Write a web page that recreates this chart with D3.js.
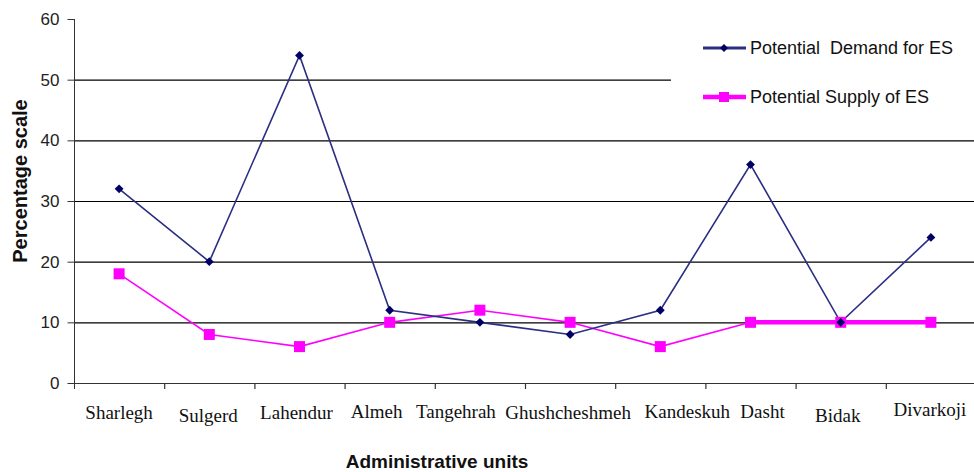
<!DOCTYPE html>
<html>
<head>
<meta charset="utf-8">
<script src="https://cdn.jsdelivr.net/npm/d3@7"></script>
<style>
  html, body { margin: 0; padding: 0; background: #fff; }
  svg { display: block; }
</style>
</head>
<body>
<svg id="chart" width="974" height="472"></svg>
<script>
// Administrative units along the x axis
const units = ["Sharlegh", "Sulgerd", "Lahendur", "Almeh", "Tangehrah",
               "Ghushcheshmeh", "Kandeskuh", "Dasht", "Bidak", "Divarkoji"];
// Potential demand for ecosystem services (%)
const demand = [32, 20, 54, 12, 10, 8, 12, 36, 10, 24];
// Potential supply of ecosystem services (%)
const supply = [18, 8, 6, 10, 12, 10, 6, 10, 10, 10];
// Y axis ticks
const yTicks = [0, 10, 20, 30, 40, 50, 60];
const seriesNames = ["Potential  Demand for ES", "Potential Supply of ES"];

const svg = d3.select("#chart");
const plotLeft = 74, plotRight = 976, plotTop = 19, plotBottom = 383;

const x = d3.scaleBand().domain(units).range([plotLeft, plotRight]);
const xc = d => x(d) + x.bandwidth() / 2;
const y = d3.scaleLinear().domain([0, 60]).range([plotBottom, plotTop]);

// horizontal gridlines
svg.append("g").selectAll("line")
  .data(yTicks.filter(t => t > 0 && t < 60))
  .join("line")
  .attr("x1", plotLeft).attr("x2", 974)
  .attr("y1", d => y(d) + 0.5).attr("y2", d => y(d) + 0.5)
  .attr("stroke", "#000").attr("stroke-width", 1.2);

// y axis
const yAxis = svg.append("g")
  .attr("transform", `translate(${plotLeft + 0.5},0)`)
  .call(d3.axisLeft(y).tickValues(yTicks).tickSize(7).tickPadding(8));
yAxis.select(".domain").attr("stroke", "#333").attr("d", `M0,${plotTop}V${plotBottom + 6}`);
yAxis.selectAll(".tick line").attr("stroke", "#333");
yAxis.selectAll(".tick text")
  .attr("font-family", "'Liberation Sans', Arial, sans-serif")
  .attr("font-size", 17).attr("fill", "#222");

// x axis line and tick marks at the band edges
svg.append("line")
  .attr("x1", plotLeft - 6).attr("x2", 974)
  .attr("y1", plotBottom + 0.5).attr("y2", plotBottom + 0.5)
  .attr("stroke", "#333").attr("stroke-width", 1.2);
svg.append("g").selectAll("line")
  .data(units.slice(1))
  .join("line")
  .attr("x1", d => x(d) + 0.5).attr("x2", d => x(d) + 0.5)
  .attr("y1", plotBottom).attr("y2", plotBottom + 6)
  .attr("stroke", "#333").attr("stroke-width", 1.2);

// category labels, nudged sideways so the long names do not collide
const labelShift = [0, -1, -3, -13, -24, -2, 27, 12, -3, -1];
const labelDrop = [0, 3, 0, -1, -1, 0, -1, -1, 3, -3];
svg.append("g").selectAll("text")
  .data(units)
  .join("text")
  .attr("x", (d, i) => xc(d) + labelShift[i])
  .attr("y", (d, i) => 419 + labelDrop[i])
  .attr("text-anchor", "middle")
  .attr("font-family", "'Liberation Serif', 'Times New Roman', serif")
  .attr("font-size", 19).attr("fill", "#111")
  .text(d => d);

// axis titles
svg.append("text")
  .attr("x", 437).attr("y", 468)
  .attr("text-anchor", "middle")
  .attr("font-family", "'Liberation Sans', Arial, sans-serif")
  .attr("font-size", 19).attr("font-weight", "bold").attr("fill", "#111")
  .text("Administrative units");
svg.append("text")
  .attr("transform", "translate(27,181) rotate(-90)")
  .attr("text-anchor", "middle")
  .attr("font-family", "'Liberation Sans', Arial, sans-serif")
  .attr("font-size", 20).attr("font-weight", "bold").attr("fill", "#111")
  .text("Percentage scale");

const line = d3.line().x((d, i) => xc(units[i])).y(d => y(d));

// supply series
const supplyColor = "#ff00ff";
svg.append("path").datum(supply)
  .attr("d", line).attr("fill", "none")
  .attr("stroke", supplyColor).attr("stroke-width", 1.6);
// the final run of equal values is drawn with a heavier stroke
const tailStart = 7;
svg.append("path").datum(supply.slice(tailStart))
  .attr("d", d3.line().x((d, i) => xc(units[i + tailStart])).y(d => y(d)))
  .attr("fill", "none").attr("stroke", supplyColor).attr("stroke-width", 4.5);

// demand series
const demandColor = "#2a2f82";
svg.append("path").datum(demand)
  .attr("d", line).attr("fill", "none")
  .attr("stroke", demandColor).attr("stroke-width", 1.6);

// markers
svg.append("g").selectAll("rect")
  .data(supply)
  .join("rect")
  .attr("x", (d, i) => xc(units[i]) - 5.5).attr("y", d => y(d) - 5.5)
  .attr("width", 11).attr("height", 11)
  .attr("fill", supplyColor);
const diamond = d3.symbol().type(d3.symbolDiamond2).size(50);
svg.append("g").selectAll("path")
  .data(demand)
  .join("path")
  .attr("transform", (d, i) => `translate(${xc(units[i])},${y(d)})`)
  .attr("d", diamond)
  .attr("fill", "#000066");

// legend
const legend = svg.append("g");
legend.append("rect")
  .attr("x", 671).attr("y", 22).attr("width", 303).attr("height", 98)
  .attr("fill", "#fff");
const legendRows = [
  { name: seriesNames[0], ly: 48, color: demandColor, width: 3, marker: "diamond" },
  { name: seriesNames[1], ly: 97, color: supplyColor, width: 4.5, marker: "square" }
];
legendRows.forEach(r => {
  legend.append("line")
    .attr("x1", 703).attr("x2", 746).attr("y1", r.ly).attr("y2", r.ly)
    .attr("stroke", r.color).attr("stroke-width", r.width);
  if (r.marker === "diamond") {
    legend.append("path")
      .attr("transform", `translate(724,${r.ly})`)
      .attr("d", d3.symbol().type(d3.symbolDiamond2).size(40))
      .attr("fill", "#000066");
  } else {
    legend.append("rect")
      .attr("x", 719).attr("y", r.ly - 5).attr("width", 10).attr("height", 10)
      .attr("fill", r.color);
  }
  legend.append("text")
    .attr("x", 750).attr("y", r.ly + 6)
    .attr("font-family", "'Liberation Sans', Arial, sans-serif")
    .attr("font-size", 18).attr("fill", "#111")
    .style("white-space", "pre")
    .text(r.name);
});
</script>
</body>
</html>
